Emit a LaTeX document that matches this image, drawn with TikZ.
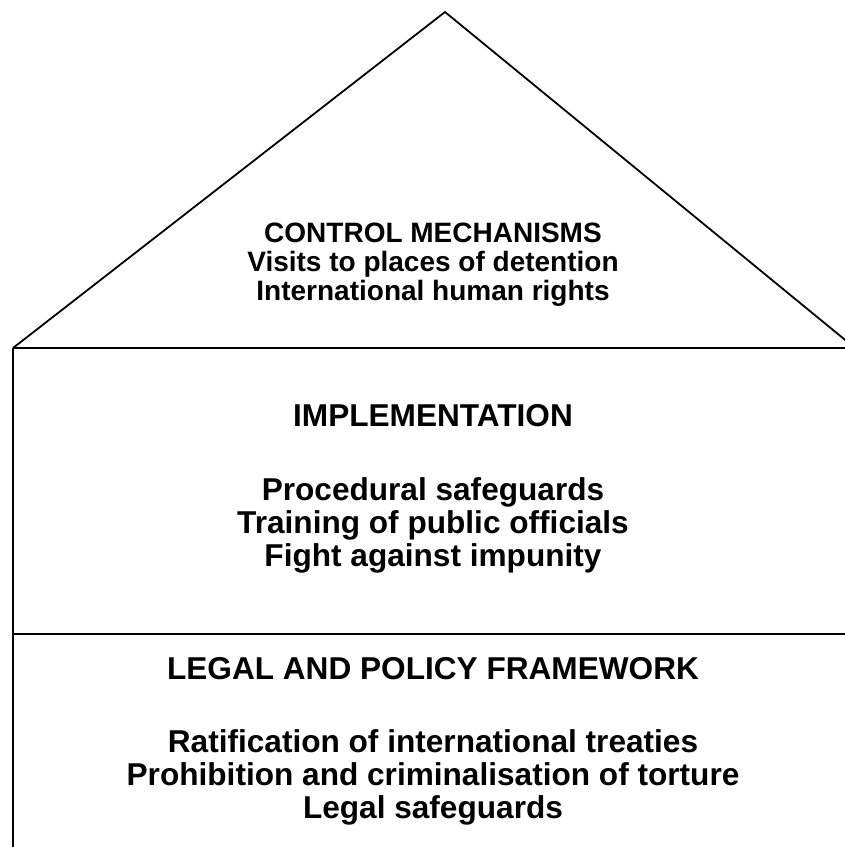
\documentclass[tikz,border=0pt]{standalone}
\usepackage{fontspec}
\setmainfont{Liberation Sans}
\begin{document}
\begin{tikzpicture}[x=1pt,y=-1pt,
  edge/.style={line width=1.8pt,black},
  bigtxt/.style={font=\bfseries\fontsize{31.6}{33}\selectfont,anchor=base,inner sep=0pt,align=center},
  smalltxt/.style={font=\bfseries\fontsize{28}{29}\selectfont,anchor=base,inner sep=0pt,align=center}]
  \useasboundingbox (0,0) rectangle (845,847);
  \begin{scope}
    \clip (0,0) rectangle (845,847);
    % outline of the house
    \coordinate (apex) at (445,12);
    \coordinate (eaveL) at (13,348);
    \coordinate (eaveR) at (855,348);
    \coordinate (floorL) at (13,634);
    \coordinate (floorR) at (880,634);
    \coordinate (baseL) at (13,880);
    \draw[edge,line join=miter] (eaveL) -- (apex) -- (eaveR);
    \draw[edge] (eaveL) -- (eaveR);
    \draw[edge] (floorL) -- (floorR);
    \draw[edge] (eaveL) -- (baseL);
  \end{scope}
  % roof
  \node[smalltxt] (ctrl) at (433,242) {CONTROL MECHANISMS};
  \node[smalltxt] (visits) at (433,271) {Visits to places of detention};
  \node[smalltxt] (ihr) at (433,300) {International human rights};
  % middle storey
  \node[bigtxt] (impl) at (433,426) {IMPLEMENTATION};
  \node[bigtxt] (proc) at (433,500) {Procedural safeguards};
  \node[bigtxt] (train) at (433,533) {Training of public officials};
  \node[bigtxt] (fight) at (433,566) {Fight against impunity};
  % ground storey
  \node[bigtxt] (legal) at (433,679) {LEGAL AND POLICY FRAMEWORK};
  \node[bigtxt] (ratif) at (433,752) {Ratification of international treaties};
  \node[bigtxt] (prohib) at (433,785) {Prohibition and criminalisation of torture};
  \node[bigtxt] (lsafe) at (433,818) {Legal safeguards};
\end{tikzpicture}
\end{document}
